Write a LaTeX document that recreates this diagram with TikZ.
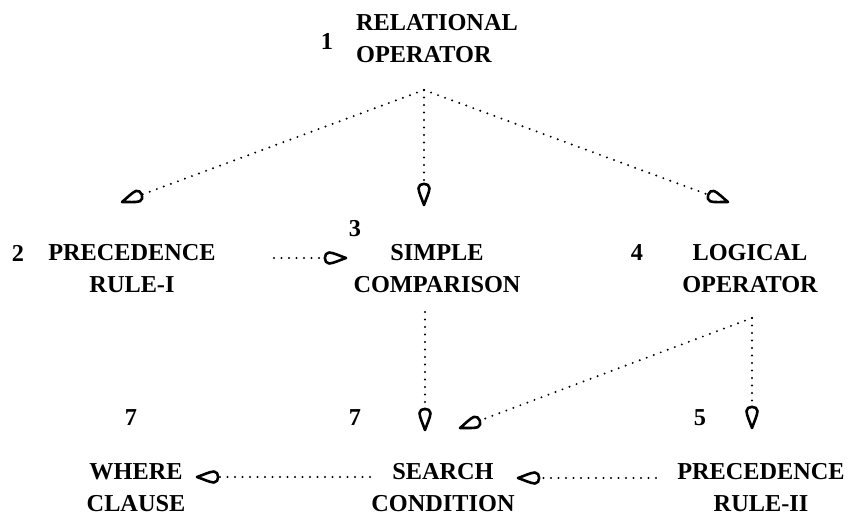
\documentclass[tikz,border=0pt]{standalone}
\usepackage{fontspec}
\setmainfont{Liberation Serif}
\pgfdeclarearrow{
  name = Drop,
  setup code = {
    \pgfarrowssettipend{0pt}
    \pgfarrowssetlineend{-20pt}
    \pgfarrowssetvisualbackend{-23pt}
    \pgfarrowshullpoint{0pt}{0pt}
    \pgfarrowshullpoint{-23pt}{7pt}
    \pgfarrowshullpoint{-23pt}{-7pt}
  },
  drawing code = {
    \pgfsetdash{}{0pt}
    \pgfsetlinewidth{2.6pt}
    \pgfsetroundjoin
    \pgfsetroundcap
    \pgfpathmoveto{\pgfqpoint{0pt}{0pt}}
    \pgfpathcurveto{\pgfqpoint{-6pt}{2pt}}{\pgfqpoint{-13pt}{5.5pt}}{\pgfqpoint{-17pt}{5.5pt}}
    \pgfpathcurveto{\pgfqpoint{-22.5pt}{5.5pt}}{\pgfqpoint{-22.5pt}{-5.5pt}}{\pgfqpoint{-17pt}{-5.5pt}}
    \pgfpathcurveto{\pgfqpoint{-13pt}{-5.5pt}}{\pgfqpoint{-6pt}{-2pt}}{\pgfqpoint{0pt}{0pt}}
    \pgfpathclose
    \pgfusepathqstroke
  }
}
\tikzset{
  lbl/.style={inner sep=0pt, align=center, font=\fontsize{24.3}{32}\selectfont\bfseries},
  num/.style={inner sep=0pt, font=\fontsize{24.3}{32}\selectfont\bfseries},
  conn/.style={line width=2.2pt, line cap=round, dash pattern=on 0pt off 7.5pt, -Drop}
}
\begin{document}
\begin{tikzpicture}[x=1pt, y=-1pt]
\useasboundingbox (0,0) rectangle (852,519);
% row 1
\node[lbl, align=left, anchor=west] (rel) at (356,39) {RELATIONAL\\OPERATOR};
\node[num] (n1) at (327,41) {1};
\coordinate (apex) at (424,90);
\coordinate (t2) at (122,202);
\coordinate (t3) at (424,205);
\coordinate (t4) at (728,202);
% row 2
\node[num] (n2) at (18,253) {2};
\node[lbl] (pre1) at (132,269) {PRECEDENCE\\RULE-I};
\node[num] (n3) at (355,229) {3};
\node[lbl] (sim) at (437,269) {SIMPLE\\COMPARISON};
\node[num] (n4) at (637,253) {4};
\node[lbl] (log) at (750,269) {LOGICAL\\OPERATOR};
% row 3
\node[num] (n7a) at (131,418) {7};
\node[num] (n7b) at (355,418) {7};
\node[num] (n5) at (700,418) {5};
% row 4
\node[lbl] (whe) at (136,488) {WHERE\\CLAUSE};
\node[lbl] (sea) at (443,488) {SEARCH\\CONDITION};
\node[lbl] (pre2) at (761,488) {PRECEDENCE\\RULE-II};
% connector points
\coordinate (p2s) at (274,258);
\coordinate (p3e) at (346,258);
\coordinate (s3) at (425,312);
\coordinate (t3b) at (425,430);
\coordinate (s4) at (752,318);
\coordinate (t4b) at (752,428);
\coordinate (t4c) at (460,428);
\coordinate (s5) at (656,478);
\coordinate (t5) at (518,478);
\coordinate (s6) at (370,477);
\coordinate (t6) at (197,477);
% connectors
\draw[conn] (apex) -- (t2);
\draw[conn] (apex) -- (t3);
\draw[conn] (apex) -- (t4);
\draw[conn] (p2s) -- (p3e);
\draw[conn] (s3) -- (t3b);
\draw[conn] (s4) -- (t4b);
\draw[conn] (s4) -- (t4c);
\draw[conn] (s5) -- (t5);
\draw[conn] (s6) -- (t6);
\end{tikzpicture}
\end{document}
